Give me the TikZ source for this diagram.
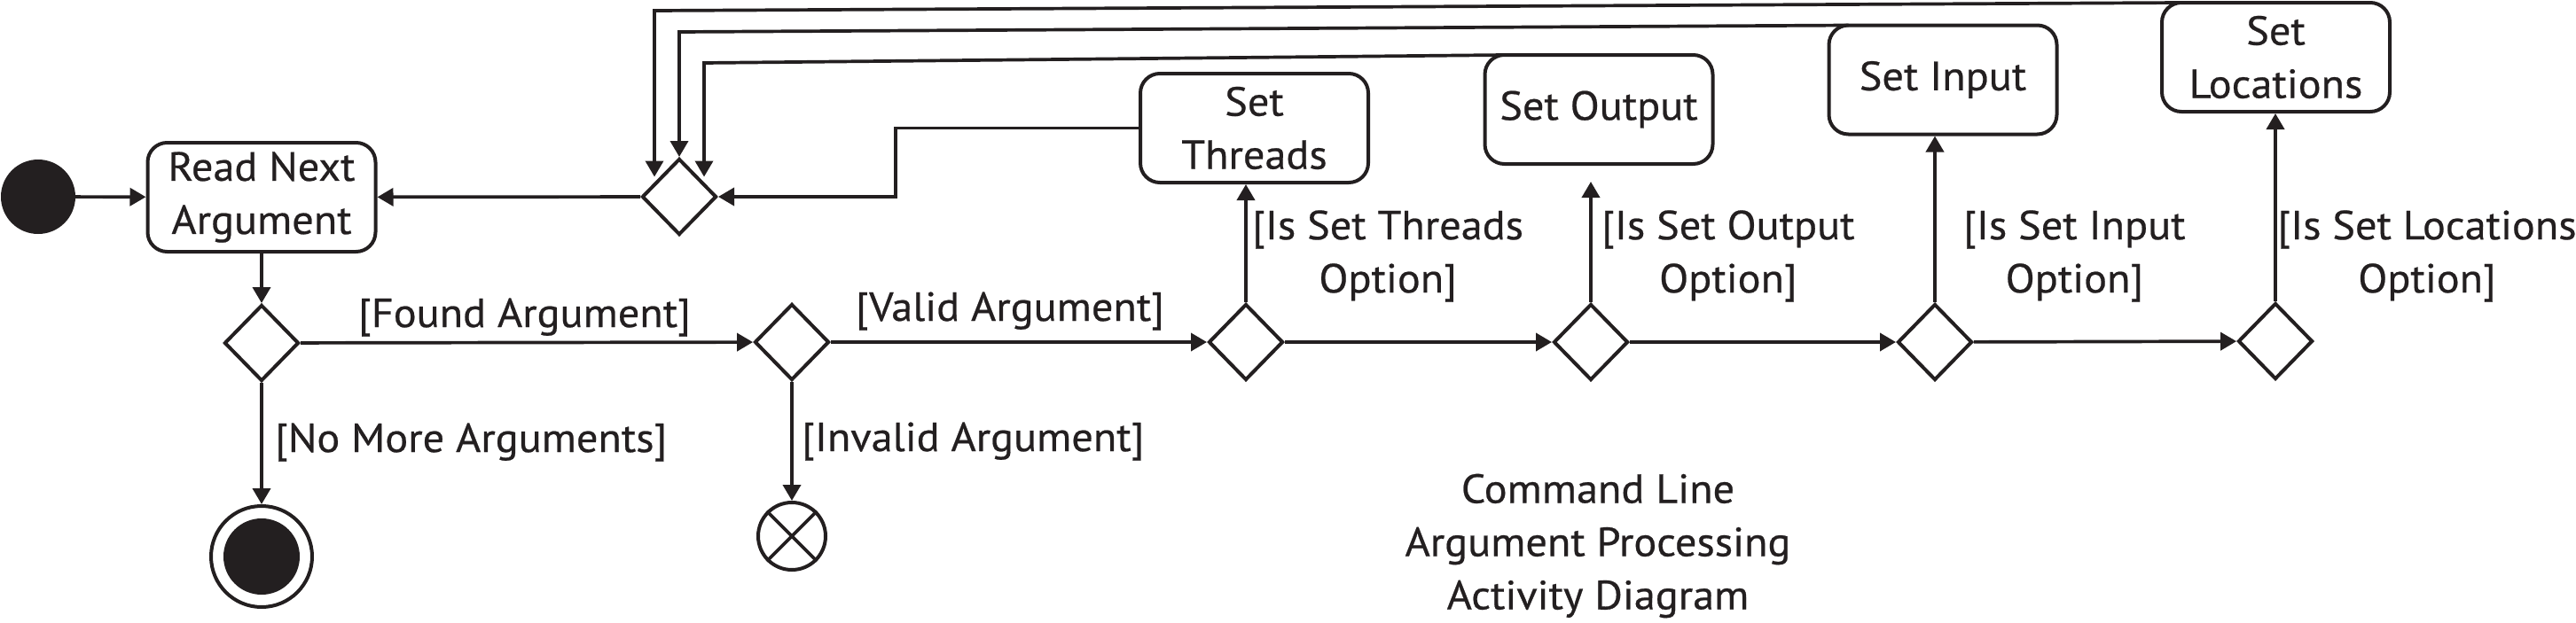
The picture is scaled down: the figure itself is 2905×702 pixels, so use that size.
\documentclass[tikz,border=0pt]{standalone}
\usepackage{fontspec}
\setmainfont{PT Sans}[FakeStretch=1.05,FakeBold=0.5]
\usetikzlibrary{shapes.geometric,arrows.meta,calc}
\definecolor{ink}{HTML}{231F20}
\begin{document}
\begin{tikzpicture}[x=1pt,y=-1pt,
  every node/.style={text=ink},
  lbl/.style={font=\fontsize{46}{60}\selectfont, inner sep=0pt, align=center},
  act/.style={draw=ink, line width=4pt, rounded corners=22pt, minimum width=257pt, minimum height=123pt, align=center, font=\fontsize{46}{60}\selectfont, inner sep=0pt},
  dec/.style={diamond, draw=ink, line width=4pt, minimum width=84pt, minimum height=86pt, inner sep=0pt},
  flow/.style={draw=ink, line width=3.7pt, -{Triangle[length=18pt,width=20pt]}},
  plain/.style={draw=ink, line width=3.7pt},
]
\useasboundingbox (0,0) rectangle (2905,702);
% nodes
\node[circle, fill=ink, minimum size=84pt, inner sep=0pt] (init) at (43,222) {};
\node[act] (read) at (295,222.5) {Read Next\\Argument};
\node[dec] (merge) at (766,222) {};
\node[dec] (d1) at (295,387) {};
\node[circle, draw=ink, line width=4pt, minimum size=114pt, inner sep=0pt] (final) at (295,628) {};
\fill[ink] (final.center) circle (43pt);
\node[dec] (d2) at (893,386) {};
\node[circle, draw=ink, line width=4pt, minimum size=76pt, inner sep=0pt] (ff) at (893,605) {};
\draw[plain] (ff.45) -- (ff.225) (ff.135) -- (ff.315);
\node[dec] (d3) at (1405,386) {};
\node[act] (threads) at (1414.5,144.5) {Set\\Threads};
\node[dec] (d4) at (1794,386) {};
\node[act] (output) at (1803,123.5) {Set Output};
\node[dec] (d5) at (2182,386) {};
\node[act] (input) at (2191,90) {Set Input};
\node[dec] (d6) at (2566,385) {};
\node[act] (locs) at (2566.5,64.5) {Set\\Locations};
% main flow
\draw[flow] (init) -- (read);
\draw[flow] (merge) -- (read);
\draw[flow] (read) -- (d1);
\draw[flow] (d1) -- (final);
\draw[flow] (d1) -- (d2);
\draw[flow] (d2) -- (ff);
\draw[flow] (d2) -- (d3);
\draw[flow] (d3) -- (d4);
\draw[flow] (d4) -- (d5);
\draw[flow] (d5) -- (d6);
\draw[flow] (d3.north) -- (d3.north |- threads.south);
\draw[flow] (d4.north) -- ($(d4.north |- output.south)+(0,18)$);
\draw[flow] (d5.north) -- (d5.north |- input.south);
\draw[flow] (d6.north) -- (d6.north |- locs.south);
% loop backs
\coordinate (A) at (738,12);
\coordinate (B) at (766,36);
\coordinate (C) at (794,71);
\coordinate (D) at (1010,0);
\draw[flow] ($(locs.north west)+(24,2)$) -- (A) -- (A |- merge.north west);
\draw[flow] ($(input.north west)+(24,2)$) -- (B) -- (merge.north);
\draw[flow] ($(output.north west)+(24,2)$) -- (C) -- (C |- merge.north east);
\draw[flow] (threads.west) -- (threads.west -| D) -- (merge.east -| D) -- (merge.east);
% labels
\node[lbl] (lfound) at (591.5,358) {[Found Argument]};
\node[lbl, anchor=west] (lnomore) at (310,499) {[No More Arguments]};
\node[lbl] (lvalid) at (1139,351) {[Valid Argument]};
\node[lbl, anchor=west] (linvalid) at (904,498) {[Invalid Argument]};
\node[lbl, anchor=west] (lthreads) at (1412,289) {[Is Set Threads\\Option]};
\node[lbl, anchor=west] (loutput) at (1806,289) {[Is Set Output\\Option]};
\node[lbl, anchor=west] (linput) at (2214,289) {[Is Set Input\\Option]};
\node[lbl] (llocs) at (2737,289) {[Is Set Locations\\Option]};
\node[lbl] (title) at (1802,616) {Command Line\\Argument Processing\\Activity Diagram};
\end{tikzpicture}
\end{document}
